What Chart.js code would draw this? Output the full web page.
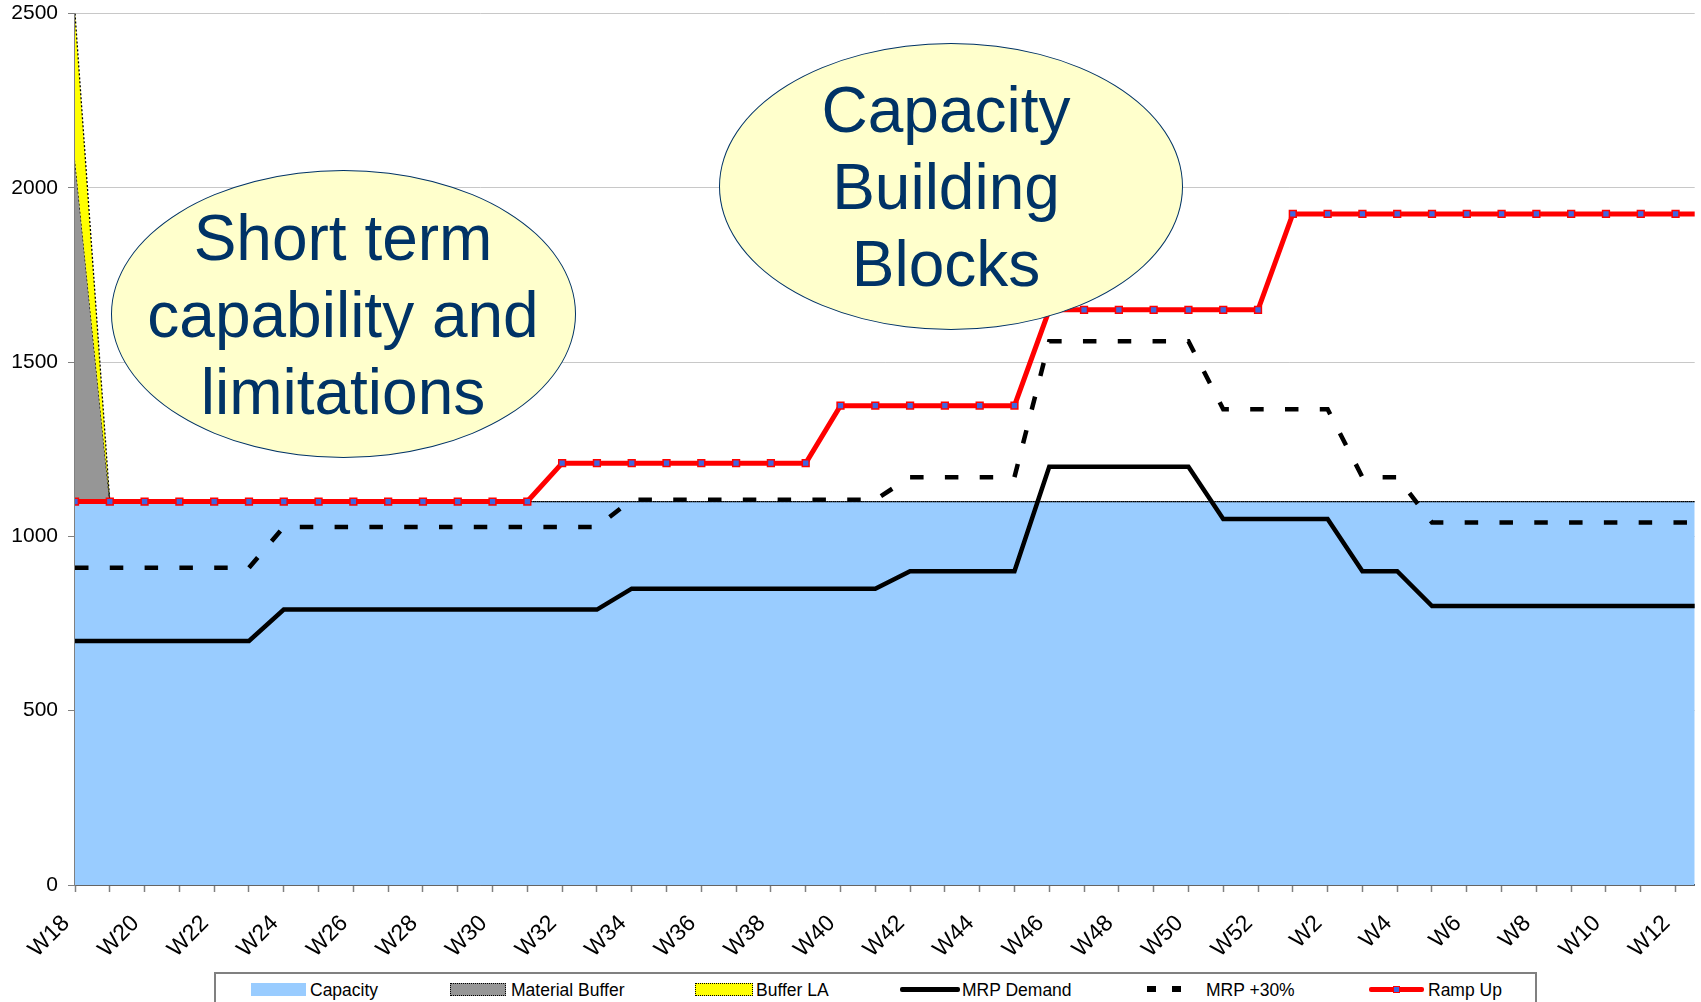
<!DOCTYPE html>
<html>
<head>
<meta charset="utf-8">
<script src="https://cdn.jsdelivr.net/npm/chart.js@4.4.1/dist/chart.umd.min.js"></script>
<style>
html,body{margin:0;padding:0;background:#fff;overflow:hidden;width:1701px;height:1002px;}
#wrap{position:relative;width:1701px;height:1002px;font-family:"Liberation Sans",Arial,sans-serif;overflow:hidden;}
#chart{position:absolute;left:0;top:0;}
.ell{position:absolute;border:1.5px solid #003366;background:#FFFFCC;border-radius:50%;box-sizing:border-box;}
.etxt{position:absolute;color:#003366;font-size:64px;line-height:77px;text-align:center;white-space:nowrap;transform:translateX(-50%);}
#legend{position:absolute;left:214px;top:972px;width:1323px;height:60px;border:2px solid #808080;box-sizing:border-box;background:#fff;}
.lt{position:absolute;top:980px;font-size:17.5px;line-height:20px;white-space:nowrap;color:#000;}
.sw{position:absolute;box-sizing:border-box;}
</style>
</head>
<body>
<div id="wrap">
  <canvas id="chart" width="1701" height="1002"></canvas>

  <div class="ell" style="left:111px;top:170px;width:465px;height:288px;"></div>
  <div class="etxt" style="left:343px;top:200px;">Short term<br>capability and<br>limitations</div>

  <div class="ell" style="left:719px;top:43px;width:464px;height:287px;"></div>
  <div class="etxt" style="left:946px;top:72px;">Capacity<br>Building<br>Blocks</div>

  <div id="legend"></div>
  <div class="sw" style="left:251px;top:983px;width:55px;height:13px;background:#99CCFF;"></div>
  <div class="lt" style="left:310px;">Capacity</div>
  <div class="sw" style="left:450px;top:983px;width:56px;height:13px;background:#969696;border:1.5px dotted #000;"></div>
  <div class="lt" style="left:511px;">Material Buffer</div>
  <div class="sw" style="left:695px;top:983px;width:58px;height:13px;background:#FFFF00;border:1.5px dotted #000;"></div>
  <div class="lt" style="left:756px;">Buffer LA</div>
  <div class="sw" style="left:900px;top:987px;width:60px;height:4.5px;background:#000;border-radius:2px;"></div>
  <div class="lt" style="left:962px;">MRP Demand</div>
  <div class="sw" style="left:1147px;top:986px;width:9px;height:6px;background:#000;"></div>
  <div class="sw" style="left:1172px;top:986px;width:9px;height:6px;background:#000;"></div>
  <div class="lt" style="left:1206px;">MRP +30%</div>
  <div class="sw" style="left:1369px;top:986.5px;width:55px;height:5px;background:#FF0000;border-radius:2px;"></div>
  <div class="sw" style="left:1393px;top:985.5px;width:7px;height:7px;background:#3F66E0;border:1.5px solid #FF0000;"></div>
  <div class="lt" style="left:1428px;">Ramp Up</div>
</div>
<script>
// ---- data ----
const categories = ['W18','W19','W20','W21','W22','W23','W24','W25','W26','W27','W28','W29','W30','W31','W32','W33','W34','W35','W36','W37','W38','W39','W40','W41','W42','W43','W44','W45','W46','W47','W48','W49','W50','W51','W52','W1','W2','W3','W4','W5','W6','W7','W8','W9','W10','W11','W12','W13'];

const capacity = [1100,1100,1100,1100,1100,1100,1100,1100,1100,1100,1100,1100,1100,1100,1100,1100,1100,1100,1100,1100,1100,1100,1100,1100,1100,1100,1100,1100,1100,1100,1100,1100,1100,1100,1100,1100,1100,1100,1100,1100,1100,1100,1100,1100,1100,1100,1100,1100];

const materialBuffer = [980,0,0,0,0,0,0,0,0,0,0,0,0,0,0,0,0,0,0,0,0,0,0,0,0,0,0,0,0,0,0,0,0,0,0,0,0,0,0,0,0,0,0,0,0,0,0,0];

const bufferLA = [420,0,0,0,0,0,0,0,0,0,0,0,0,0,0,0,0,0,0,0,0,0,0,0,0,0,0,0,0,0,0,0,0,0,0,0,0,0,0,0,0,0,0,0,0,0,0,0];

const mrpDemand = [700,700,700,700,700,700,790,790,790,790,790,790,790,790,790,790,850,850,850,850,850,850,850,850,900,900,900,900,1200,1200,1200,1200,1200,1050,1050,1050,1050,900,900,800,800,800,800,800,800,800,800,800];

const mrpPlus30 = [910,910,910,910,910,910,1027,1027,1027,1027,1027,1027,1027,1027,1027,1027,1105,1105,1105,1105,1105,1105,1105,1105,1170,1170,1170,1170,1560,1560,1560,1560,1560,1365,1365,1365,1365,1170,1170,1040,1040,1040,1040,1040,1040,1040,1040,1040];

const rampUp = [1100,1100,1100,1100,1100,1100,1100,1100,1100,1100,1100,1100,1100,1100,1210,1210,1210,1210,1210,1210,1210,1210,1375,1375,1375,1375,1375,1375,1650,1650,1650,1650,1650,1650,1650,1925,1925,1925,1925,1925,1925,1925,1925,1925,1925,1925,1925,1925];

const yTicks = [0, 500, 1000, 1500, 2000, 2500];

// ---- build (stacked area tops) ----
const pts = arr => arr.map((v, i) => ({x: i, y: v}));
const materialTop = capacity.map((v, i) => v + materialBuffer[i]);
const bufferTop = materialTop.map((v, i) => v + bufferLA[i]);
const FONT = '"Liberation Sans", Arial, sans-serif';

new Chart(document.getElementById('chart'), {
  type: 'line',
  data: {
    datasets: [
      {label:'Capacity', data: pts(capacity), fill:'origin',
       backgroundColor:'#99CCFF', borderWidth:0, borderColor:'rgba(0,0,0,0)', pointRadius:0, order:5},
      {label:'Material Buffer', data: pts(materialTop), fill:'-1',
       backgroundColor:'#969696', borderColor:'#000', borderWidth:1.3, borderDash:[2,2], pointRadius:0, order:4},
      {label:'Buffer LA', data: pts(bufferTop), fill:'-1',
       backgroundColor:'#FFFF00', borderColor:'#000', borderWidth:1.3, borderDash:[2,2], pointRadius:0, order:3},
      {label:'MRP Demand', data: pts(mrpDemand), fill:false,
       borderColor:'#000', borderWidth:4.5, pointRadius:0, order:1},
      {label:'MRP +30%', data: pts(mrpPlus30), fill:false,
       borderColor:'#000', borderWidth:4.5, borderDash:[13.5,21.3], borderCapStyle:'butt', pointRadius:0, order:2},
      {label:'Ramp Up', data: pts(rampUp), fill:false,
       borderColor:'#FF0000', borderWidth:5, pointStyle:'rect', pointRadius:4.8,
       pointBackgroundColor:'#3F66E0', pointBorderColor:'#FF0000', pointBorderWidth:1.5, order:0}
    ]
  },
  options: {
    responsive:false,
    animation:false,
    devicePixelRatio:1,
    layout:{padding:{top:0, right:5, left:0, bottom:0}},
    plugins:{legend:{display:false}, tooltip:{enabled:false}},
    scales:{
      x:{
        type:'linear', min:0, max:46.55,
        afterFit: s => { s.height = 117; s.paddingLeft = 0; s.paddingRight = 0; },
        ticks:{
          stepSize:1, autoSkip:false, includeBounds:false,
          minRotation:45, maxRotation:45, padding:18, labelOffset:-9,
          color:'#000', font:{family:FONT, size:23},
          callback: v => (Number.isInteger(v) && v % 2 === 0 && categories[v]) ? categories[v] : ''
        },
        grid:{drawOnChartArea:false, drawTicks:true, tickLength:7, tickColor:'#808080', tickWidth:1.5},
        border:{color:'#000', width:1.5}
      },
      y:{
        min:0, max:2500,
        afterFit: s => { s.width = 75; s.paddingTop = 13.5; s.paddingBottom = 0; },
        afterBuildTicks: s => { s.ticks = yTicks.map(v => ({value:v})); },
        ticks:{color:'#000', font:{family:FONT, size:21}, padding:10, callback: v => String(v)},
        grid:{color:'#C8C8C8', lineWidth:1, tickLength:7, tickColor:'#808080'},
        border:{color:'#808080', width:1.5}
      }
    }
  }
});
</script>
</body>
</html>
